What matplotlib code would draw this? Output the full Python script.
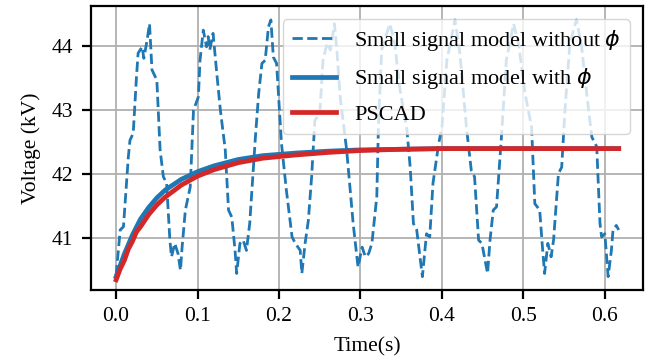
import matplotlib
matplotlib.use("Agg")
import matplotlib.pyplot as plt

# small signal model without phi
t_nophi = [0.000, 0.005, 0.009, 0.015, 0.017, 0.021, 0.025, 0.027, 0.032, 0.034, 0.038, 0.041,
           0.044, 0.050, 0.054, 0.058, 0.062, 0.066, 0.068, 0.072, 0.076, 0.079, 0.081, 0.085,
           0.091, 0.095, 0.101, 0.103, 0.107, 0.111, 0.113, 0.115, 0.119, 0.124, 0.128, 0.134,
           0.138, 0.142, 0.146, 0.148, 0.152, 0.156, 0.160, 0.164, 0.171, 0.175, 0.179, 0.183,
           0.187, 0.190, 0.193, 0.197, 0.203, 0.209, 0.216, 0.220, 0.226, 0.228, 0.232, 0.236,
           0.240, 0.244, 0.250, 0.254, 0.259, 0.263, 0.268, 0.271, 0.275, 0.283, 0.291, 0.297,
           0.302, 0.306, 0.310, 0.314, 0.320, 0.322, 0.326, 0.336, 0.342, 0.348, 0.357, 0.361,
           0.365, 0.369, 0.373, 0.376, 0.381, 0.385, 0.389, 0.396, 0.400, 0.406, 0.416, 0.422,
           0.430, 0.436, 0.440, 0.445, 0.449, 0.456, 0.459, 0.463, 0.467, 0.473, 0.479, 0.488,
           0.494, 0.502, 0.510, 0.514, 0.520, 0.523, 0.526, 0.530, 0.534, 0.537, 0.543, 0.547,
           0.551, 0.557, 0.565, 0.571, 0.580, 0.584, 0.590, 0.594, 0.596, 0.600, 0.604, 0.608,
           0.610, 0.614, 0.617]
v_nophi = [40.42, 41.13, 41.18, 42.27, 42.53, 42.64, 43.52, 43.89, 43.99, 43.81, 44.09, 44.35,
           43.63, 43.47, 42.38, 41.96, 41.86, 40.97, 40.71, 40.92, 40.76, 40.50, 40.86, 41.44,
           41.80, 43.00, 43.21, 43.78, 44.25, 43.99, 44.15, 43.94, 44.20, 43.52, 43.00, 42.38,
           41.44, 41.33, 40.81, 40.45, 40.92, 40.97, 40.81, 41.23, 42.58, 43.26, 43.73, 43.78,
           44.30, 44.41, 43.83, 43.73, 42.48, 41.75, 41.02, 40.92, 40.81, 40.45, 40.92, 41.28,
           41.96, 42.84, 42.95, 43.78, 44.05, 43.94, 44.35, 43.94, 43.21, 42.38, 41.23, 40.55,
           40.86, 40.71, 40.76, 40.92, 41.65, 42.74, 43.94, 44.35, 44.05, 43.36, 42.69, 42.11,
           41.23, 41.13, 40.71, 40.40, 41.07, 41.02, 41.86, 42.48, 42.74, 43.78, 44.41, 43.89,
           42.74, 42.06, 41.96, 40.97, 40.92, 40.45, 40.97, 41.44, 41.49, 42.58, 43.78, 44.35,
           44.04, 43.26, 42.74, 41.54, 41.44, 40.92, 40.45, 40.92, 40.71, 40.97, 42.01, 42.11,
           43.00, 44.04, 44.41, 44.04, 43.00, 42.58, 42.43, 41.23, 41.02, 41.07, 40.40, 40.81,
           41.13, 41.20, 41.13]

# small signal model with phi
t_phi = [0.0, 0.01, 0.02, 0.03, 0.04, 0.05, 0.06, 0.08, 0.10, 0.12, 0.15, 0.18, 0.22, 0.26,
         0.30, 0.35, 0.40, 0.50, 0.617]
v_phi = [40.40, 40.75, 41.05, 41.30, 41.48, 41.63, 41.75, 41.92, 42.04, 42.13, 42.23, 42.29,
         42.33, 42.36, 42.38, 42.39, 42.40, 42.40, 42.40]

# PSCAD
t_pscad = [0.0, 0.005, 0.01, 0.015, 0.02, 0.025, 0.03, 0.04, 0.05, 0.06, 0.08, 0.10, 0.12,
           0.15, 0.18, 0.22, 0.26, 0.30, 0.35, 0.40, 0.50, 0.617]
v_pscad = [40.35, 40.52, 40.65, 40.83, 40.95, 41.10, 41.18, 41.37, 41.52, 41.64, 41.83, 41.97,
           42.07, 42.18, 42.25, 42.30, 42.34, 42.37, 42.39, 42.40, 42.40, 42.40]

plt.rcParams["font.family"] = ["Liberation Serif", "DejaVu Serif"]
plt.rcParams["font.size"] = 15.5
plt.rcParams["mathtext.fontset"] = "dejavusans"

fig = plt.figure(figsize=(6.49, 3.64), dpi=100)
ax = fig.add_axes([0.140, 0.203, 0.851, 0.781])

ax.plot(t_nophi, v_nophi, "--", color="#1f77b4", lw=2.0, label=r"Small signal model without $\phi$")
ax.plot(t_phi, v_phi, "-", color="#1f77b4", lw=3.4, label=r"Small signal model with $\phi$")
ax.plot(t_pscad, v_pscad, "-", color="#d62728", lw=3.4, label="PSCAD")

ax.set_xlim(-0.031, 0.647)
ax.set_ylim(40.19, 44.63)
ax.set_xticks([0.0, 0.1, 0.2, 0.3, 0.4, 0.5, 0.6])
ax.set_yticks([41, 42, 43, 44])
ax.grid(True, color="#b0b0b0", lw=1.3)
for s in ax.spines.values():
    s.set_linewidth(1.6)
ax.tick_params(width=1.6, length=6.5, pad=6)

ax.set_xlabel("Time(s)", labelpad=8)
ax.set_ylabel("Voltage (kV)", labelpad=8)
ax.legend(loc="upper right", framealpha=0.8, handlelength=2.0, labelspacing=0.6,
          borderaxespad=0.6, fontsize=16)

fig.savefig("out.png", dpi=100)
